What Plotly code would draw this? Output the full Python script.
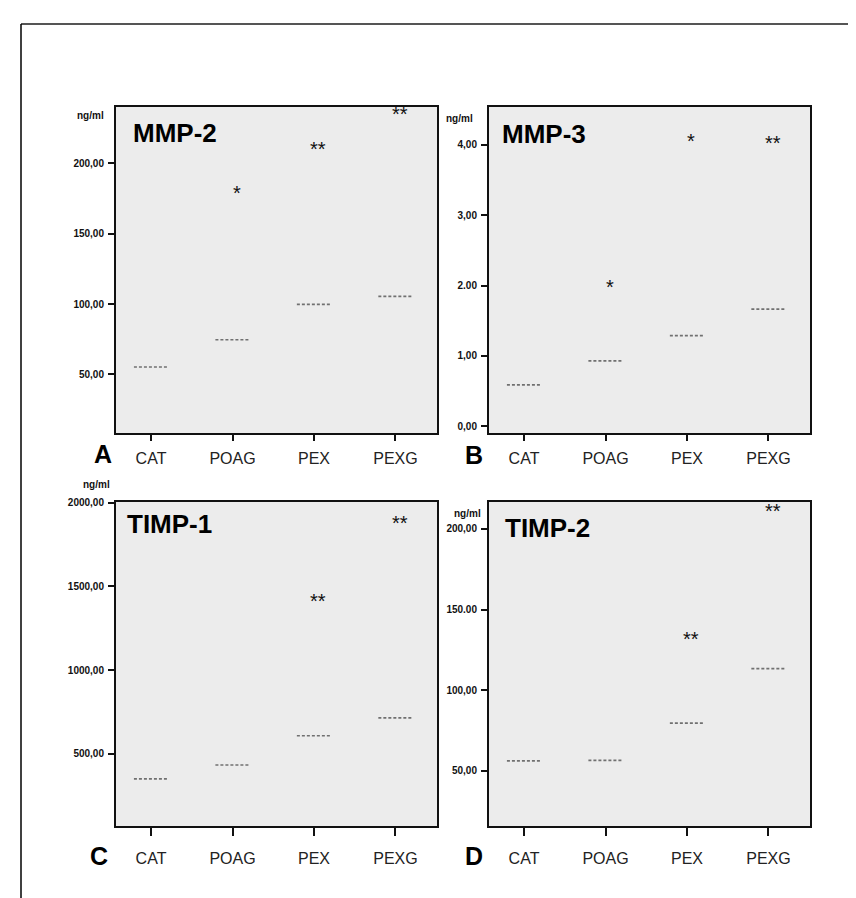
import plotly.graph_objects as go

W, H = 856, 898

groups = ["CAT", "POAG", "PEX", "PEXG"]

mmp2_median = [55.2, 74.6, 99.8, 105.5]
mmp3_median = [0.59, 0.93, 1.29, 1.665]
timp1_median = [349, 432, 607, 714]
timp2_median = [56.2, 56.6, 79.6, 113.4]

mmp2_sig = ["", "*", "**", "**"]
mmp2_sig_y = [None, 182.3, 214.0, 239.0]
mmp3_sig = ["", "*", "*", "**"]
mmp3_sig_y = [None, 2.05, 4.12, 4.10]
timp1_sig = ["", "", "**", "**"]
timp1_sig_y = [None, None, 1442, 1912]
timp2_sig = ["", "", "**", "**"]
timp2_sig_y = [None, None, 134.6, 213.8]

mmp2_ticks = [50, 100, 150, 200]
mmp2_ticktext = ["50,00", "100,00", "150,00", "200,00"]
mmp3_ticks = [0, 1, 2, 3, 4]
mmp3_ticktext = ["0,00", "1,00", "2.00", "3,00", "4,00"]
timp1_ticks = [500, 1000, 1500, 2000]
timp1_ticktext = ["500,00", "1000,00", "1500,00", "2000,00"]
timp2_ticks = [50, 100, 150, 200]
timp2_ticktext = ["50,00", "100,00", "150.00", "200,00"]

panels = [
    dict(name="MMP-2", letter="A", med=mmp2_median, sig=mmp2_sig, sigy=mmp2_sig_y,
         ticks=mmp2_ticks, ticktext=mmp2_ticktext, yr=[8.2, 240.4],
         box=(108, 429, 95, 423), title_xy=(123, 122), unit_xy=(67, 104), letter_xy=(95, 444)),
    dict(name="MMP-3", letter="B", med=mmp3_median, sig=mmp3_sig, sigy=mmp3_sig_y,
         ticks=mmp3_ticks, ticktext=mmp3_ticktext, yr=[-0.095, 4.54],
         box=(481, 802, 95, 423), title_xy=(492, 123), unit_xy=(436, 107), letter_xy=(466, 445)),
    dict(name="TIMP-1", letter="C", med=timp1_median, sig=timp1_sig, sigy=timp1_sig_y,
         ticks=timp1_ticks, ticktext=timp1_ticktext, yr=[65, 2006],
         box=(108, 429, 492, 818), title_xy=(117, 514), unit_xy=(73, 475), letter_xy=(91, 848)),
    dict(name="TIMP-2", letter="D", med=timp2_median, sig=timp2_sig, sigy=timp2_sig_y,
         ticks=timp2_ticks, ticktext=timp2_ticktext, yr=[15.7, 216.7],
         box=(481, 802, 492, 818), title_xy=(495, 518), unit_xy=(444, 504), letter_xy=(466, 848)),
]

FONT = "Liberation Sans, Arial, sans-serif"
HALF = 0.21
fig = go.Figure()
annotations = []
layout_axes = {}

for k, p in enumerate(panels):
    idx = "" if k == 0 else str(k + 1)
    xa, ya = "x" + idx, "y" + idx
    x0, x1, y0, y1 = p["box"]
    xs, ys = [], []
    for i, m in enumerate(p["med"]):
        xs += [i - HALF, i + HALF, None]
        ys += [m, m, None]
    fig.add_trace(go.Scatter(x=xs, y=ys, mode="lines", xaxis=xa, yaxis=ya,
                             line=dict(color="#707070", width=1.7, dash="3px,2px"),
                             hoverinfo="skip", showlegend=False))
    for i, (s, sy) in enumerate(zip(p["sig"], p["sigy"])):
        if s:
            annotations.append(dict(x=i + 0.05, y=sy, xref=xa, yref=ya, text=s,
                                    showarrow=False, yshift=-5,
                                    font=dict(family=FONT, size=20, color="#111")))
    bottom = k >= 2
    layout_axes["xaxis" + idx] = dict(
        domain=[x0 / W, x1 / W], anchor=ya, range=[-0.43, 3.51],
        tickmode="array", tickvals=list(range(len(groups))), ticktext=groups,
        showline=True, mirror=True, linecolor="#111", linewidth=2,
        ticks="outside", ticklen=8 if bottom else 6, tickwidth=2, tickcolor="#111",
        ticklabelstandoff=8 if bottom else 4,
        showgrid=False, zeroline=False,
        tickfont=dict(family=FONT, size=16, color="#222"))
    layout_axes["yaxis" + idx] = dict(
        domain=[1 - y1 / H, 1 - y0 / H], anchor=xa, range=p["yr"],
        tickmode="array", tickvals=p["ticks"], ticktext=p["ticktext"],
        showline=True, mirror=True, linecolor="#111", linewidth=2,
        ticks="outside", ticklen=6, tickwidth=2, tickcolor="#111",
        ticklabelstandoff=2,
        showgrid=False, zeroline=False,
        tickfont=dict(family=FONT, size=10, color="#111", weight="bold"))
    tx, ty = p["title_xy"]
    annotations.append(dict(x=tx / W, y=1 - ty / H, xref="paper", yref="paper",
                            xanchor="left", yanchor="middle", text=p["name"], showarrow=False,
                            font=dict(family=FONT, size=26, color="#000", weight="bold")))
    ux, uy = p["unit_xy"]
    annotations.append(dict(x=ux / W, y=1 - uy / H, xref="paper", yref="paper",
                            xanchor="left", yanchor="middle", text="ng/ml", showarrow=False,
                            font=dict(family=FONT, size=10, color="#111", weight="bold")))
    lx, ly = p["letter_xy"]
    annotations.append(dict(x=lx / W, y=1 - ly / H, xref="paper", yref="paper",
                            xanchor="center", yanchor="middle", text=p["letter"], showarrow=False,
                            font=dict(family=FONT, size=25, color="#000", weight="bold")))

shapes = [
    dict(type="line", xref="paper", yref="paper", x0=13 / W, x1=1, y0=1 - 12 / H, y1=1 - 12 / H,
         line=dict(color="#555", width=2)),
    dict(type="line", xref="paper", yref="paper", x0=13 / W, x1=13 / W, y0=0, y1=1 - 12 / H,
         line=dict(color="#000", width=1.5)),
]

fig.update_layout(width=W, height=H, margin=dict(l=0, r=0, t=0, b=0),
                  paper_bgcolor="white", plot_bgcolor="#ececec",
                  annotations=annotations, shapes=shapes, showlegend=False,
                  **layout_axes)

fig.write_html("out.html", config={"displayModeBar": False})
